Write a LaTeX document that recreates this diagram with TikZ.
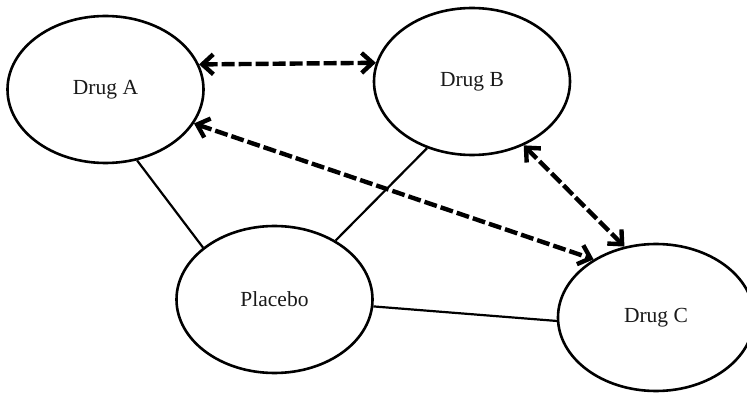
\documentclass[tikz,border=0pt]{standalone}
\usepackage{fontspec}
\setmainfont{Liberation Serif}
\usetikzlibrary{shapes.geometric,arrows.meta}
\begin{document}
\begin{tikzpicture}[x=1pt,y=-1pt,
  drugnode/.style={ellipse,draw,line width=2.6pt,minimum width=196pt,minimum height=147pt,inner sep=0pt,font=\fontsize{21.5}{24}\selectfont,text=black!90},
  solidlink/.style={line width=2.2pt,black},
  dashlink/.style={line width=4.4pt,black,dash pattern=on 13pt off 4pt,
    {Straight Barb[length=11pt,width=20pt]}-{Straight Barb[length=11pt,width=20pt]}}]
\useasboundingbox (0,0) rectangle (747,395);
\node[drugnode] (A) at (105.5,89.5) {Drug A};
\node[drugnode] (B) at (472,81.5) {Drug B};
\node[drugnode] (P) at (274.5,299.5) {Placebo};
\node[drugnode] (C) at (656,317.5) {Drug C};
\draw[solidlink] (A.-66) -- (P.144);
\draw[solidlink] (B.-124.5) -- (P.44.5);
\draw[solidlink] (P.-4) -- (C.182);
\draw[dashlink] (A.15.1) -- (B.169.9);
\draw[dashlink] (A.-21) -- (C.137);
\draw[dashlink] (B.-51) -- (C.114);
\end{tikzpicture}
\end{document}
